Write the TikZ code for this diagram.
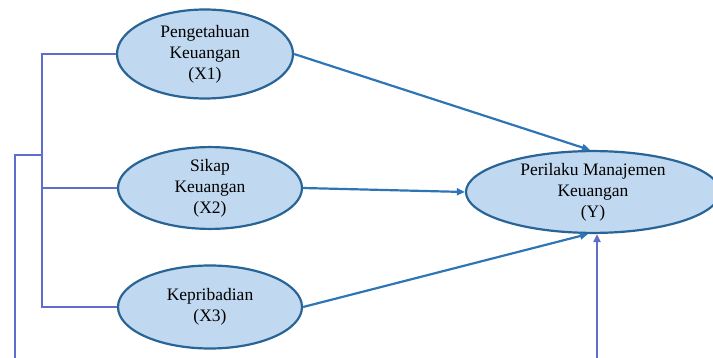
\documentclass[tikz,border=0pt]{standalone}
\usepackage{fontspec}
\setmainfont{Liberation Serif}
\usetikzlibrary{shapes.geometric,arrows.meta}
\definecolor{ellfill}{RGB}{193,217,240}
\definecolor{elldraw}{RGB}{40,100,150}
\definecolor{arrowblue}{RGB}{46,117,182}
\definecolor{linkviolet}{RGB}{95,110,205}
\tikzset{
  varbox/.style={
    shape = ellipse,
    draw = elldraw,
    fill = ellfill,
    line width = 2.2pt,
    inner sep = 0pt,
    minimum width = 184pt,
    align = center,
    font = \fontsize{17.5}{21}\selectfont
  },
  effect/.style={
    draw = arrowblue,
    line width = 2.2pt,
    -{Triangle[length=8pt,width=7pt]}
  },
  link/.style={
    draw = linkviolet,
    line width = 2.2pt
  }
}

\begin{document}
\begin{tikzpicture}[x=1pt,y=-1pt]
  \useasboundingbox (0,0) rectangle (713,358);
  \node[varbox, minimum width=176pt, minimum height=89pt] (x1) at (205,54) {Pengetahuan\\Keuangan\\(X1)};
  \node[varbox, minimum height=77pt] (x2) at (210,188) {Sikap\\Keuangan\\(X2)};
  \node[varbox, minimum height=83pt] (x3) at (210,307) {Kepribadian\\(X3)};
  \node[varbox, minimum width=254pt, minimum height=79pt] (y) at (593,192) {Perilaku Manajemen\\Keuangan\\(Y)};
  % left bracket
  \coordinate (spine) at (42,0);
  \coordinate (fork) at (42,155);
  \coordinate (low) at (15,390);
  \draw[link] (x1.west) -| (spine |- x3.west) -- (x3.west);
  \draw[link] (x2.west) -- (x2.west -| spine);
  \draw[link, -{Triangle[length=8pt,width=7pt]}] (fork) -| (low) -| ([xshift=4pt]y.south);
  % effects
  \draw[effect] (x1.east) -- ([xshift=-3pt]y.north);
  \draw[effect] (x2.east) -- (y.west);
  \draw[effect] (x3.east) -- ([xshift=-5pt]y.south);
\end{tikzpicture}
\end{document}
